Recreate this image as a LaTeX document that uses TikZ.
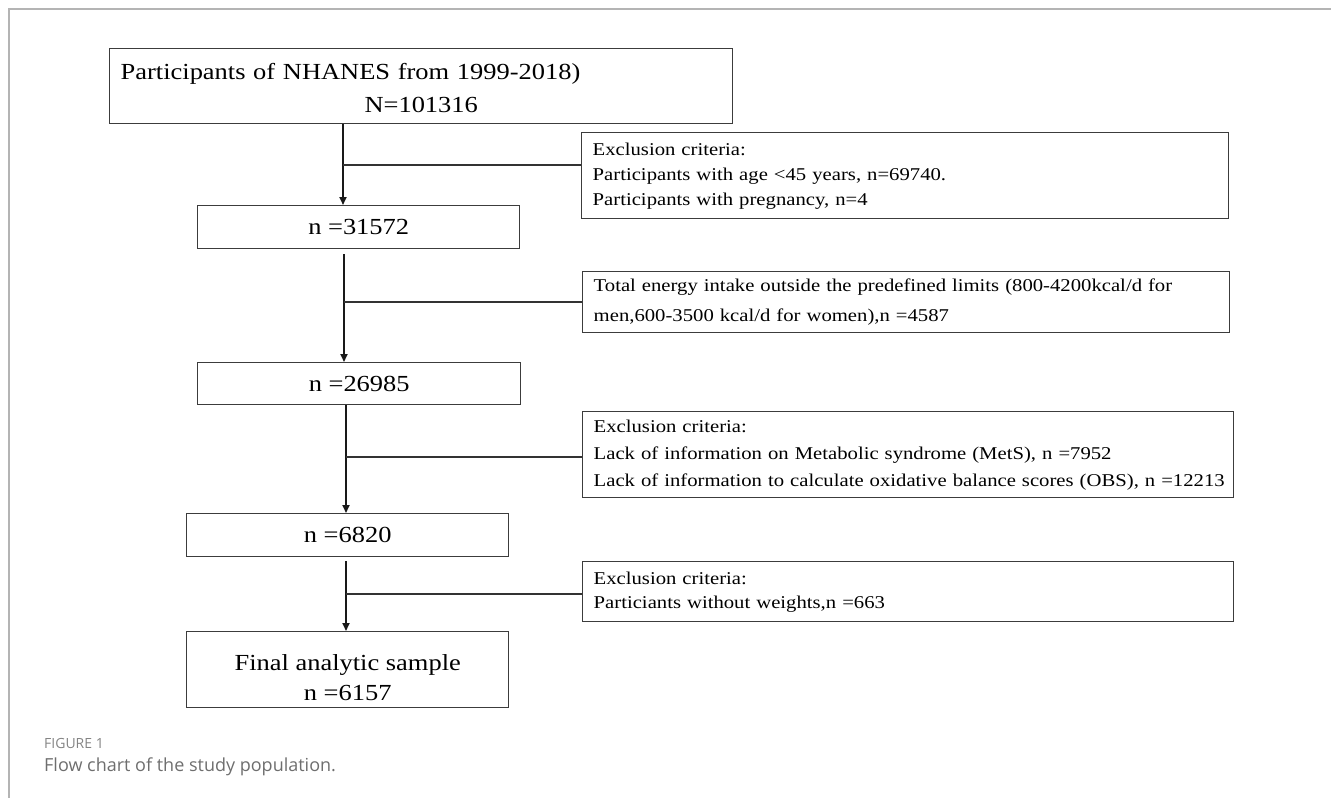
\documentclass[tikz,border=0pt]{standalone}
\usepackage{fontspec}
\setmainfont[FakeStretch=1.15]{Liberation Serif}
\newfontfamily\capfont{Open Sans}
\usetikzlibrary{arrows.meta,positioning}
\definecolor{boxline}{HTML}{3C3C3C}
\definecolor{framegray}{HTML}{B4B4B4}
\definecolor{capgray}{HTML}{6E6E6E}

\begin{document}
\begin{tikzpicture}[x = 1pt, y = -1pt,
  stagebox/.style = {draw = boxline, line width = 1.4pt, shape = rectangle, anchor = north west, inner xsep = 11pt, font = \fontsize{23}{33}\selectfont},
  exclbox/.style = {stagebox, align = left, font = \fontsize{18}{26}\selectfont},
  flowarrow/.style = {line width = 1.8pt, draw = black!90, -{Triangle[length = 8pt, width = 7pt]}},
  sideline/.style = {line width = 1.3pt, draw = black!80}]
\useasboundingbox (0,0) rectangle (1331,798);
\draw[framegray, line width = 1.5pt] (9,798) -- (9,9) -- (1331,9);

\node[stagebox, minimum width = 623pt, minimum height = 75pt, text width = 601pt, align = center] (1) at (109,48) {\makebox[\hsize][l]{\rule{0pt}{20pt}Participants of NHANES from 1999-2018)}\\ N=101316};
\node[stagebox, minimum width = 322pt, minimum height = 43pt] (2) at (197,205) {n =31572};
\node[stagebox, minimum width = 323pt, minimum height = 42pt] (3) at (197,362) {n =26985};
\node[stagebox, minimum width = 322pt, minimum height = 43pt] (4) at (186,513) {n =6820};
\node[stagebox, minimum width = 322pt, minimum height = 76pt, align = center, font = \fontsize{23}{30}\selectfont] (5) at (186,631) {\rule{0pt}{31pt}Final analytic sample\\ n =6157};

\node[exclbox, minimum width = 647pt, minimum height = 86pt, text width = 625pt, font = \fontsize{18}{25}\selectfont] (11) at (581,132) {Exclusion criteria:\\ Participants with age <45 years, n=69740.\\ Participants with pregnancy, n=4};
\node[exclbox, minimum width = 647pt, minimum height = 61pt, text width = 625pt, font = \fontsize{18}{30}\selectfont] (12) at (582,271) {\mbox{Total energy intake outside the predefined limits (800-4200kcal/d for}\\ men,600-3500 kcal/d for women),n =4587};
\node[exclbox, minimum width = 651pt, minimum height = 86pt, text width = 629pt, font = \fontsize{18}{27}\selectfont] (13) at (582,411) {Exclusion criteria:\\ Lack of information on Metabolic syndrome (MetS), n =7952\\ \mbox{Lack of information to calculate oxidative balance scores (OBS), n =12213}};
\node[exclbox, minimum width = 651pt, minimum height = 60pt, text width = 629pt, font = \fontsize{18}{24}\selectfont] (14) at (582,561) {Exclusion criteria:\\ Particiants without weights,n =663};

\coordinate (b1) at (343,165);
\coordinate (b2) at (344,302);
\coordinate (b3) at (346,457);
\coordinate (b4) at (346,594);
\draw[flowarrow] (b1 |- 1.south) -- (b1 |- 2.north);
\draw[flowarrow, shorten < = 5pt] (b2 |- 2.south) -- (b2 |- 3.north);
\draw[flowarrow] (b3 |- 3.south) -- (b3 |- 4.north);
\draw[flowarrow, shorten < = 4pt] (b4 |- 4.south) -- (b4 |- 5.north);
\draw[sideline] (b1) -- (b1 -| 11.west);
\draw[sideline] (b2) -- (b2 -| 12.west);
\draw[sideline] (b3) -- (b3 -| 13.west);
\draw[sideline] (b4) -- (b4 -| 14.west);

\node[anchor = base west, inner sep = 0pt, text = capgray!85, font = \capfont\fontsize{14}{16}\selectfont] (6) at (44,748) {FIGURE 1};
\node[anchor = base west, inner sep = 0pt, text = capgray, font = \capfont\fontsize{18}{21}\selectfont] (7) at (44,771) {Flow chart of the study population.};
\end{tikzpicture}
\end{document}
